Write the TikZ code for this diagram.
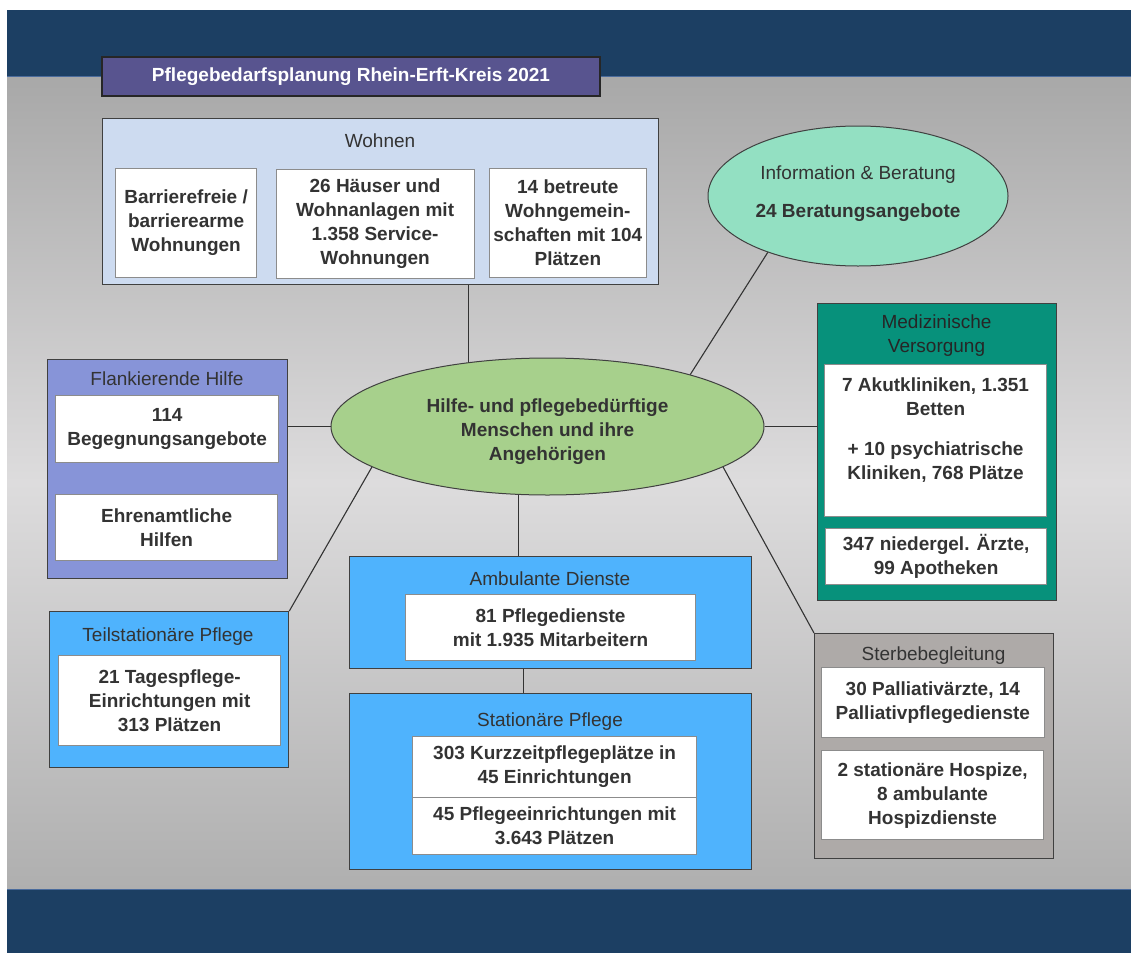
\documentclass[tikz,border=0pt]{standalone}
\usepackage{fontspec}
\setmainfont{Liberation Sans}
\usetikzlibrary{shapes.geometric}
\definecolor{bandblue}{HTML}{1C3F63}
\definecolor{bandline}{HTML}{4A6B9C}
\definecolor{graytop}{HTML}{A8A8A8}
\definecolor{graymid}{HTML}{DDDCDD}
\definecolor{graybot}{HTML}{AFAFAF}
\definecolor{titlepurple}{HTML}{58548F}
\definecolor{wohnblue}{HTML}{CDDBF0}
\definecolor{infogreen}{HTML}{93E0C2}
\definecolor{centergreen}{HTML}{A7D08C}
\definecolor{medteal}{HTML}{07917B}
\definecolor{flankblue}{HTML}{8794D8}
\definecolor{skyblue}{HTML}{4FB3FD}
\definecolor{sterbegray}{HTML}{AEAAA8}
\definecolor{txt}{HTML}{333333}
\definecolor{boxline}{HTML}{404040}
\definecolor{innerline}{HTML}{8C8C8C}
\begin{document}
\begin{tikzpicture}[x=1pt,y=-1pt,
    font=\fontsize{19}{24}\selectfont,
    outer/.style={draw=boxline,line width=1.3pt,anchor=north west,inner sep=0pt},
    inner/.style={draw=innerline,fill=white,line width=1.2pt,anchor=north west,inner sep=0pt,
      align=center,text=txt,font=\fontsize{19}{24}\selectfont\bfseries},
    headline/.style={align=center,text=txt,inner sep=0pt},
    bubble/.style={ellipse,draw=boxline,line width=1pt,inner sep=0pt,align=center,text=txt},
    link/.style={draw=txt,line width=1.1pt}]
  \useasboundingbox (0,0) rectangle (1131,953);
  \fill[white] (0,0) rectangle (1131,953);
  \fill[bandblue] (7,10) rectangle (1131,76);
  \shade[top color=graytop,bottom color=graybot,middle color=graymid] (7,76) rectangle (1131,889);
  \fill[bandblue] (7,889) rectangle (1131,953);
  \draw[bandline,line width=1pt] (7,76) -- (1131,76) (7,889) -- (1131,889);

  \node[draw=black!85,fill=titlepurple,line width=1.3pt,minimum width=498pt,minimum height=39pt,
    text=white,font=\fontsize{19}{24}\selectfont\bfseries] (head) at (351,76.5)
    {Pflegebedarfsplanung Rhein-Erft-Kreis 2021};

  \node[outer,fill=wohnblue,minimum width=556pt,minimum height=166pt] (wohnen) at (102,118) {};
  \node[headline] (wohnen-t) at (380,141) {Wohnen};
  \node[inner,minimum width=141pt,minimum height=109pt] (barriere) at (115,168)
    {Barrierefreie /\\barrierearme\\Wohnungen};
  \node[inner,minimum width=198pt,minimum height=109pt] (haeuser) at (275.5,169)
    {26 Häuser und\\Wohnanlagen mit\\1.358 Service-\\Wohnungen};
  \node[inner,minimum width=157.5pt,minimum height=109pt] (wg) at (488.5,168)
    {14 betreute\\Wohngemein-\\schaften mit 104\\Plätzen};

  \node[bubble,fill=infogreen,minimum width=300pt,minimum height=140pt] (info) at (858,196) {};
  \node[headline] (info-t) at (858,194)
    {Information \& Beratung\\[14pt]\textbf{24 Beratungsangebote}};

  \node[outer,fill=medteal,minimum width=239pt,minimum height=297pt] (med) at (817,303) {};
  \node[headline,text=black!85] (med-t) at (936.5,336) {Medizinische\\Versorgung};
  \node[inner,minimum width=222pt,minimum height=152pt] (akut) at (824,364)
    {7 Akutkliniken, 1.351\\Betten\\[16pt]+ 10 psychiatrische\\Kliniken, 768 Plätze\\\mbox{}};
  \node[inner,minimum width=221pt,minimum height=56pt] (aerzte) at (825,528)
    {347 niedergel. Ärzte,\\99 Apotheken};

  \node[outer,fill=flankblue,minimum width=240pt,minimum height=219pt] (flank) at (47,359) {};
  \node[headline] (flank-t) at (167,379) {Flankierende Hilfe};
  \node[inner,minimum width=223pt,minimum height=67pt] (begegnung) at (55,395)
    {114\\Begegnungsangebote};
  \node[inner,minimum width=222pt,minimum height=66pt] (ehrenamt) at (55,494)
    {Ehrenamtliche\\Hilfen};

  \node[outer,fill=skyblue,minimum width=239.5pt,minimum height=156pt] (teil) at (48.5,611) {};
  \node[headline] (teil-t) at (168,637) {Teilstationäre Pflege};
  \node[inner,minimum width=222pt,minimum height=90pt] (tages) at (58,655)
    {21 Tagespflege-\\Einrichtungen mit\\313 Plätzen};

  \node[outer,fill=skyblue,minimum width=402pt,minimum height=112pt] (amb) at (349,556) {};
  \node[headline] (amb-t) at (550,579) {Ambulante Dienste};
  \node[inner,minimum width=290pt,minimum height=66pt] (dienste) at (405,594)
    {81 Pflegedienste\\mit 1.935 Mitarbeitern};

  \node[outer,fill=skyblue,minimum width=402pt,minimum height=176pt] (stat) at (349,693) {};
  \node[headline] (stat-t) at (550,722) {Stationäre Pflege};
  \node[inner,minimum width=284pt,minimum height=61pt] (kurz) at (412,736)
    {303 Kurzzeitpflegeplätze in\\45 Einrichtungen};
  \node[inner,minimum width=284pt,minimum height=57pt] (heim) at (412,797)
    {45 Pflegeeinrichtungen mit\\3.643 Plätzen};

  \node[outer,fill=sterbegray,minimum width=239pt,minimum height=225pt] (sterbe) at (814,633) {};
  \node[headline] (sterbe-t) at (933.5,656) {Sterbebegleitung};
  \node[inner,minimum width=222.5pt,minimum height=70pt] (palliativ) at (821,667)
    {30 Palliativärzte, 14\\Palliativpflegedienste};
  \node[inner,minimum width=222pt,minimum height=89pt] (hospiz) at (821,750)
    {2 stationäre Hospize,\\8 ambulante\\Hospizdienste};

  \node[bubble,fill=centergreen,minimum width=433pt,minimum height=137pt] (center) at (547.5,426.5) {};
  \node[headline,font=\fontsize{19}{24}\selectfont\bfseries] (center-t) at (547.5,432)
    {Hilfe- und pflegebedürftige\\Menschen und ihre\\Angehörigen};

  \begin{scope}[link]
    \draw (center.141.3) -- (center.141.3 |- wohnen.south);
    \draw (center.20) -- (info.-148.5);
    \draw (center.east) -- (center.east -| med.west);
    \draw (center.west) -- (center.west -| flank.east);
    \draw (center.193.2) -- (teil.north east);
    \draw (center.247.2) -- (center.247.2 |- amb.north);
    \draw ([xshift=-27pt]amb.south) -- ([xshift=-27pt]stat.north);
    \draw (center.-13.3) -- (sterbe.north west);
  \end{scope}
\end{tikzpicture}
\end{document}
